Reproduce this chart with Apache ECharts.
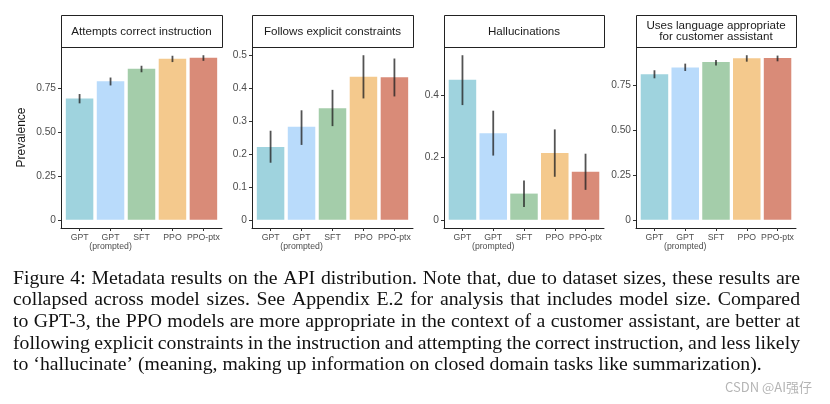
<!DOCTYPE html>
<html>
<head>
<meta charset="utf-8">
<script src="https://cdn.jsdelivr.net/npm/echarts@6/dist/echarts.min.js"></script>
<style>
html,body{margin:0;padding:0;background:#fff;}
#chart{width:830px;height:404px;}
</style>
</head>
<body>
<div id="chart"></div>
<script>
// ---------- data ----------
const categories = ['GPT', 'GPT\n(prompted)', 'SFT', 'PPO', 'PPO-ptx'];
const barColors = ['#9fd3de', '#b9dbfb', '#a4cdaa', '#f4c98d', '#d98b78'];

const panelTitles = [
  'Attempts correct instruction',
  'Follows explicit constraints',
  'Hallucinations',
  'Uses language appropriate\nfor customer assistant'
];

const attemptsMean = [0.690, 0.789, 0.860, 0.917, 0.922];
const attemptsLow  = [0.663, 0.765, 0.840, 0.898, 0.905];
const attemptsHigh = [0.716, 0.810, 0.877, 0.934, 0.937];

const constraintsMean = [0.221, 0.282, 0.338, 0.434, 0.432];
const constraintsLow  = [0.173, 0.227, 0.284, 0.368, 0.374];
const constraintsHigh = [0.270, 0.332, 0.394, 0.499, 0.489];

const halluMean = [0.449, 0.278, 0.084, 0.214, 0.154];
const halluLow  = [0.368, 0.206, 0.041, 0.138, 0.096];
const halluHigh = [0.528, 0.350, 0.126, 0.290, 0.212];

const languageMean = [0.813, 0.852, 0.882, 0.903, 0.905];
const languageLow  = [0.791, 0.832, 0.862, 0.884, 0.886];
const languageHigh = [0.836, 0.873, 0.894, 0.920, 0.918];

const ticks1 = [0, 0.25, 0.5, 0.75];
const tickLabels1 = ['0', '0.25', '0.50', '0.75'];
const ticks2 = [0, 0.1, 0.2, 0.3, 0.4, 0.5];
const tickLabels2 = ['0', '0.1', '0.2', '0.3', '0.4', '0.5'];
const ticks3 = [0, 0.2, 0.4];
const tickLabels3 = ['0', '0.2', '0.4'];
const ticks4 = [0, 0.25, 0.5, 0.75];
const tickLabels4 = ['0', '0.25', '0.50', '0.75'];

const yAxisTitle = 'Prevalence';

const captionLines = [
  'Figure 4: Metadata results on the API distribution. Note that, due to dataset sizes, these results are',
  'collapsed across model sizes. See Appendix E.2 for analysis that includes model size. Compared',
  'to GPT-3, the PPO models are more appropriate in the context of a customer assistant, are better at',
  'following explicit constraints in the instruction and attempting the correct instruction, and less likely',
  'to \u2018hallucinate\u2019 (meaning, making up information on closed domain tasks like summarization).'
];
const watermark = 'CSDN @AI\u5f3a\u4ed4';

// ---------- layout ----------
const panels = [
  { mean: attemptsMean, low: attemptsLow, high: attemptsHigh, ticks: ticks1, labels: tickLabels1 },
  { mean: constraintsMean, low: constraintsLow, high: constraintsHigh, ticks: ticks2, labels: tickLabels2 },
  { mean: halluMean, low: halluLow, high: halluHigh, ticks: ticks3, labels: tickLabels3 },
  { mean: languageMean, low: languageLow, high: languageHigh, ticks: ticks4, labels: tickLabels4 }
];
const panelLeft = [61, 252, 444, 636];
const panelWidth = [161, 161, 160, 160];
const stripTop = 15, stripH = 32, plotTop = 47, plotH = 181;
const SANS = '"Liberation Sans", Arial, Helvetica, sans-serif';
const SERIF = '"Liberation Serif", "Times New Roman", serif';
const xPos = categories.map((c, i) => i + 1);

const chart = echarts.init(document.getElementById('chart'), null, { renderer: 'canvas' });

const option = {
  animation: false,
  backgroundColor: '#fff',
  grid: [], xAxis: [], yAxis: [], series: [], graphic: []
};

panels.forEach((p, k) => {
  const L = panelLeft[k], W = panelWidth[k];
  const top = Math.max.apply(null, p.high);
  const pad = top * 0.05;
  option.grid.push({ left: L, top: plotTop, width: W, height: plotH });
  option.xAxis.push({
    gridIndex: k, type: 'value', min: 0.4, max: categories.length + 0.6,
    splitLine: { show: false },
    axisLine: { show: true, onZero: false, lineStyle: { color: '#222', width: 1 } },
    axisTick: { show: true, length: 3, customValues: xPos, lineStyle: { color: '#333', width: 1 } },
    axisLabel: {
      customValues: xPos, margin: 5, fontSize: 8.7, lineHeight: 9,
      color: '#4d4d4d', fontFamily: SANS,
      formatter: v => categories[Math.round(v) - 1] || ''
    }
  });
  option.yAxis.push({
    gridIndex: k, type: 'value', min: -pad, max: top + pad,
    name: k === 0 ? yAxisTitle : '',
    nameLocation: 'middle', nameRotate: 90, nameGap: 33,
    nameTextStyle: { fontSize: 12, color: '#1a1a1a', fontFamily: SANS },
    splitLine: { show: false },
    axisLine: { show: true, onZero: false, lineStyle: { color: '#222', width: 1 } },
    axisTick: { show: true, length: 3, customValues: p.ticks, lineStyle: { color: '#333', width: 1 } },
    axisLabel: {
      customValues: p.ticks, margin: 5, fontSize: 10.2, color: '#4d4d4d', fontFamily: SANS,
      formatter: v => {
        const i = p.ticks.findIndex(t => Math.abs(t - v) < 1e-9);
        return i >= 0 ? p.labels[i] : '';
      }
    }
  });
  option.series.push({
    type: 'bar', xAxisIndex: k, yAxisIndex: k, barWidth: 27.5,
    data: p.mean.map((v, i) => ({ value: [xPos[i], v], itemStyle: { color: barColors[i] } }))
  });
  option.series.push({
    type: 'custom', xAxisIndex: k, yAxisIndex: k, z: 10,
    encode: { x: 0, y: [1, 2] },
    data: p.low.map((lo, i) => [xPos[i], lo, p.high[i]]),
    renderItem: (params, api) => {
      const x = api.value(0);
      const a = api.coord([x, api.value(1)]);
      const b = api.coord([x, api.value(2)]);
      return {
        type: 'line',
        shape: { x1: a[0], y1: a[1], x2: b[0], y2: b[1] },
        style: { stroke: 'rgba(35,35,35,0.78)', lineWidth: 1.8 }
      };
    }
  });
  option.graphic.push({
    type: 'rect', silent: true,
    shape: { x: L + 0.5, y: stripTop + 0.5, width: W, height: stripH },
    style: { fill: '#fff', stroke: '#222', lineWidth: 1 }
  });
  option.graphic.push({
    type: 'text', silent: true,
    x: L + W / 2, y: stripTop + stripH / 2 + 0.5,
    style: {
      text: panelTitles[k], fontSize: 11.6, lineHeight: 10.8, fill: '#1a1a1a',
      fontFamily: SANS, align: 'center', verticalAlign: 'middle'
    }
  });
});

// ---------- caption (justified) ----------
const cvs = document.createElement('canvas');
const ctx = cvs.getContext('2d');
ctx.font = '100px "Liberation Serif"';
const capLeft = 13, capRight = 800;
const lastW = ctx.measureText(captionLines[4]).width;
const capSize = Math.max(14, Math.min(21, 100 * 749 / lastW));
ctx.font = capSize + 'px "Liberation Serif"';
const capY0 = 278.5, capStep = 21.7;
captionLines.forEach((line, li) => {
  const y = capY0 + li * capStep;
  if (li === captionLines.length - 1) {
    option.graphic.push({
      type: 'text', silent: true, x: capLeft, y: y,
      style: { text: line, fontSize: capSize, fontFamily: SERIF, fill: '#111', verticalAlign: 'middle' }
    });
    return;
  }
  const words = line.split(' ');
  const widths = words.map(w => ctx.measureText(w).width);
  const total = widths.reduce((a, b) => a + b, 0);
  const gap = Math.max(2, (capRight - capLeft - total) / (words.length - 1));
  let x = capLeft;
  words.forEach((w, i) => {
    option.graphic.push({
      type: 'text', silent: true, x: x, y: y,
      style: { text: w, fontSize: capSize, fontFamily: SERIF, fill: '#111', verticalAlign: 'middle' }
    });
    x += widths[i] + gap;
  });
});

option.graphic.push({
  type: 'text', silent: true, x: 812, y: 387,
  style: {
    text: watermark, fontSize: 13, fontFamily: '"Noto Sans CJK SC", "Noto Sans", sans-serif',
    fill: '#b5b5b5', align: 'right', verticalAlign: 'middle'
  }
});

chart.setOption(option);
</script>
</body>
</html>
